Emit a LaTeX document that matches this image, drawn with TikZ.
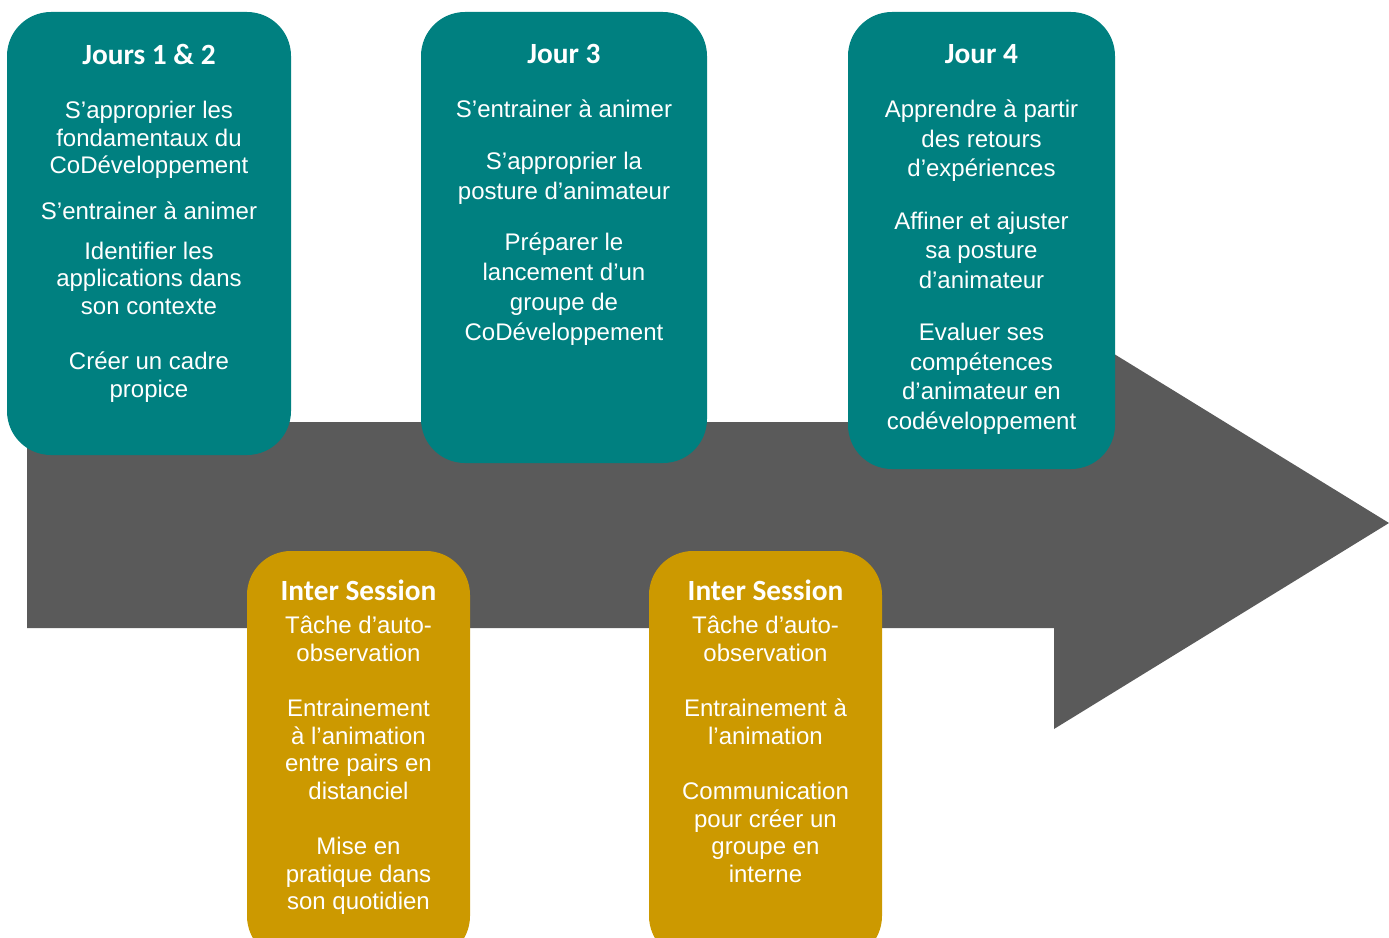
\documentclass[tikz,border=0pt]{standalone}
\usepackage{fontspec}
\setmainfont{Liberation Sans}
\newfontfamily\headfont{Carlito}
\usetikzlibrary{positioning}
\definecolor{daycol}{HTML}{008080}
\definecolor{intercol}{HTML}{CC9900}
\definecolor{arrowcol}{HTML}{5A5A5A}

\begin{document}
\begin{tikzpicture}[x=0.75pt,y=-0.75pt,
  card/.style={rectangle,rounded corners=33pt,inner sep=0pt},
  day/.style={card,fill=daycol},
  inter/.style={card,fill=intercol},
  title/.style={text=white,inner sep=0pt,font=\headfont\bfseries\fontsize{22}{26}\selectfont},
  body/.style={text=white,align=center,inner sep=0pt,font=\fontsize{18}{#1}\selectfont}]
  \clip (0,0) rectangle (1389,938);
  % timeline arrow
  \fill[arrowcol] (27,422) -- (1054,422) -- (1054,317) -- (1389,523)
    -- (1054,729) -- (1054,628) -- (27,628) -- cycle;

  % days
  \node[day,minimum width=213pt,minimum height=332.25pt] (d12) at (149,233.5) {};
  \node[title,below=24.25pt of d12.north] (t12) {Jours 1 \& 2};
  \node[body=20.6pt,below=27pt of t12] (b12) {S’approprier les\\ fondamentaux du\\ CoDéveloppement\\[14pt]
    S’entrainer à animer\\[9pt] Identifier les\\ applications dans\\ son contexte\\[21pt]
    Créer un cadre\\ propice};

  \node[day,minimum width=214.5pt,minimum height=338.25pt] (d3) at (564,237.5) {};
  \node[title,below=24.25pt of d3.north] (t3) {Jour 3};
  \node[body=22.5pt,below=27pt of t3] (b3) {S’entrainer à animer\\[16pt] S’approprier la\\ posture d’animateur\\[16pt]
    Préparer le\\ lancement d’un\\ groupe de\\ CoDéveloppement};

  \node[day,minimum width=200.25pt,minimum height=342.75pt] (d4) at (981.5,240.5) {};
  \node[title,below=24.25pt of d4.north] (t4) {Jour 4};
  \node[body=22.2pt,below=27pt of t4] (b4) {Apprendre à partir\\ des retours\\ d’expériences\\[17pt]
    Affiner et ajuster\\ sa posture\\ d’animateur\\[17pt] Evaluer ses\\ compétences\\ d’animateur en\\ codéveloppement};

  % inter sessions
  \node[inter,minimum width=167.25pt,minimum height=306.75pt] (i1) at (358.5,755.5) {};
  \node[title,below=21.5pt of i1.north] (ti1) {Inter Session};
  \node[body=20.6pt,below=11.5pt of ti1] (bi1) {Tâche d’auto-\\ observation\\[21pt] Entrainement\\ à l’animation\\
    entre pairs en\\ distanciel\\[21pt] Mise en\\ pratique dans\\ son quotidien};

  \node[inter,minimum width=174.75pt,minimum height=306.75pt] (i2) at (765.5,755.5) {};
  \node[title,below=21.5pt of i2.north] (ti2) {Inter Session};
  \node[body=20.6pt,below=11.5pt of ti2] (bi2) {Tâche d’auto-\\ observation\\[21pt] Entrainement à\\ l’animation\\[21pt]
    Communication\\ pour créer un\\ groupe en\\ interne};
\end{tikzpicture}
\end{document}
